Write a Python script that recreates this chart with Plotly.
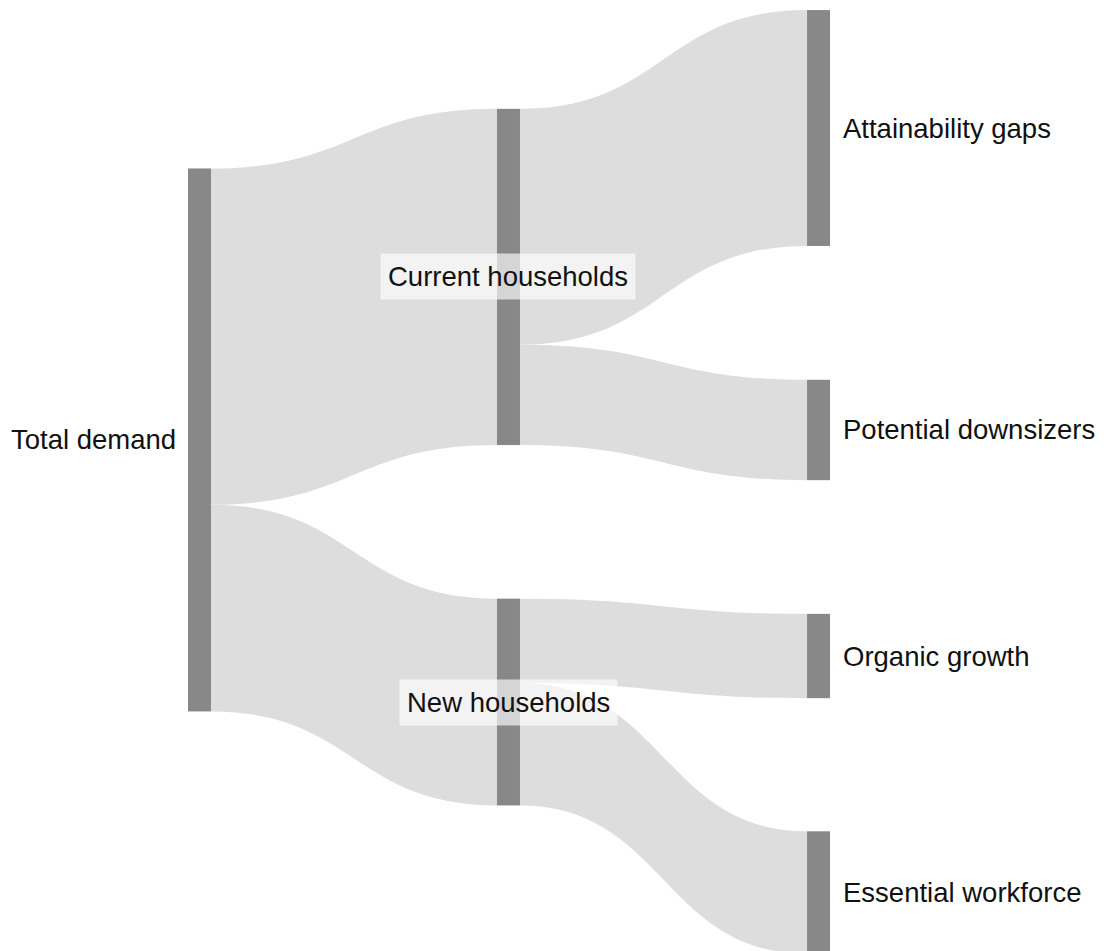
import plotly.graph_objects as go

# nodes and flows (units)
labels = ["Total demand", "Current households", "New households",
          "Attainability gaps", "Potential downsizers", "Organic growth",
          "Essential workforce"]
sources = [0, 0, 1, 1, 2, 2]
targets = [1, 2, 3, 4, 5, 6]
values = [335, 206, 235, 100, 84, 122]

# node layout (fractions of the plot area, centre of each node)
node_x = [0.1730, 0.4521, 0.4521, 0.7322, 0.7322, 0.7322, 0.7322]
node_y = [0.4542, 0.2828, 0.7298, 0.1262, 0.4437, 0.6814, 0.9301]

W, H = 1107, 951
THICK = 23
FONT = "Liberation Sans, Arial, sans-serif"

fig = go.Figure(go.Sankey(
    arrangement="fixed",
    node=dict(
        label=[""] * len(labels),
        customdata=labels,
        hovertemplate="%{customdata}<extra></extra>",
        x=node_x,
        y=node_y,
        pad=136,
        thickness=THICK,
        color="#888888",
        line=dict(width=0),
    ),
    link=dict(
        source=sources,
        target=targets,
        value=values,
        color="#dddddd",
        line=dict(width=0),
    ),
))

annotations = []
for i, name in enumerate(labels):
    xx = node_x[i]
    yy = 1 - node_y[i]
    if i == 0:
        annotations.append(dict(x=xx - (THICK / 2 + 10) / W, y=yy,
                                text=name, xanchor="right", showarrow=False))
    elif i in (1, 2):
        annotations.append(dict(x=xx, y=yy, text=name, xanchor="center",
                                showarrow=False, bgcolor="rgba(255,255,255,0.65)",
                                borderpad=7))
    else:
        annotations.append(dict(x=xx + (THICK / 2 + 11) / W, y=yy,
                                text=name, xanchor="left", showarrow=False))

for a in annotations:
    a.update(xref="paper", yref="paper", yanchor="middle",
             font=dict(family=FONT, size=27.5, color="#111111"))

fig.update_layout(
    width=W,
    height=H,
    margin=dict(l=0, r=0, t=0, b=0),
    paper_bgcolor="white",
    plot_bgcolor="white",
    font=dict(family=FONT, size=27.5, color="#111111"),
    annotations=annotations,
)

fig.write_html("out.html")
